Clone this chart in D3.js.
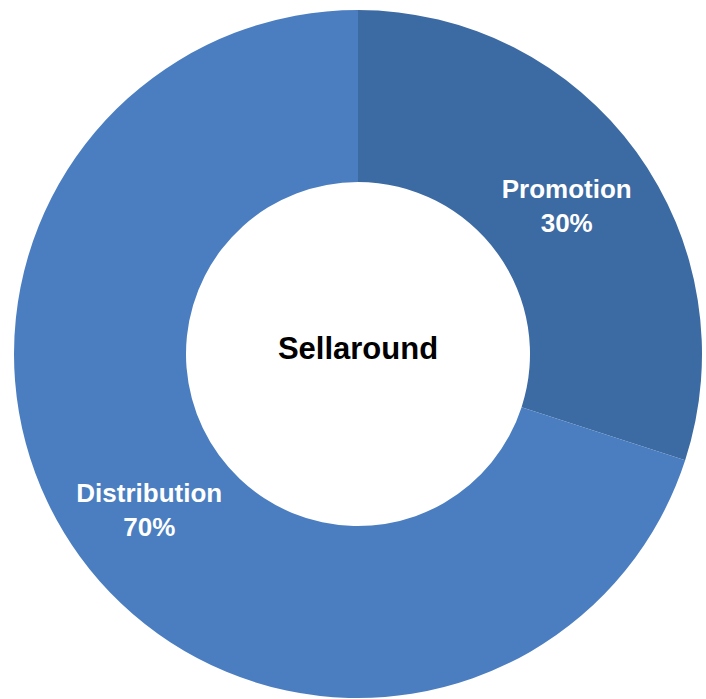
<!DOCTYPE html>
<html>
<head>
<meta charset="utf-8">
<script src="https://cdn.jsdelivr.net/npm/d3@7"></script>
<style>
  html, body { margin: 0; padding: 0; background: #ffffff; }
  svg { display: block; }
</style>
</head>
<body>
<svg id="chart" width="706" height="699"></svg>
<script>
// Share of the Sellaround budget
const categories = ["Promotion", "Distribution"];
const shares = [30, 70];
const sliceColors = ["#3c6aa3", "#4a7ec0"];
const centerTitle = "Sellaround";

const cx = 358, cy = 354;
const outerR = 344, innerR = 172;

const svg = d3.select("#chart");
const g = svg.append("g").attr("transform", `translate(${cx},${cy})`);

const data = categories.map((c, i) => ({ name: c, value: shares[i], color: sliceColors[i] }));

const pie = d3.pie().value(d => d.value).sort(null);
const arc = d3.arc().innerRadius(innerR).outerRadius(outerR);

const arcs = pie(data);

g.selectAll("path.slice")
  .data(arcs)
  .join("path")
  .attr("class", "slice")
  .attr("d", arc)
  .attr("fill", d => d.data.color);

// Slice labels: name and percentage, centred on each slice
const labels = g.selectAll("text.label")
  .data(arcs)
  .join("text")
  .attr("class", "label")
  .attr("text-anchor", "middle")
  .attr("font-family", "Liberation Sans, Arial, sans-serif")
  .attr("font-weight", "bold")
  .attr("font-size", 26)
  .attr("fill", "#ffffff");

labels.each(function(d) {
  const [x, y] = arc.centroid(d);
  const t = d3.select(this);
  t.append("tspan").attr("x", x).attr("y", y - 4).text(d.data.name);
  t.append("tspan").attr("x", x).attr("y", y + 30).text(d.data.value + "%");
});

// Title in the hole
g.append("text")
  .attr("x", 0)
  .attr("y", 5)
  .attr("text-anchor", "middle")
  .attr("font-family", "Liberation Sans, Arial, sans-serif")
  .attr("font-weight", "bold")
  .attr("font-size", 31)
  .attr("fill", "#000000")
  .text(centerTitle);
</script>
</body>
</html>
